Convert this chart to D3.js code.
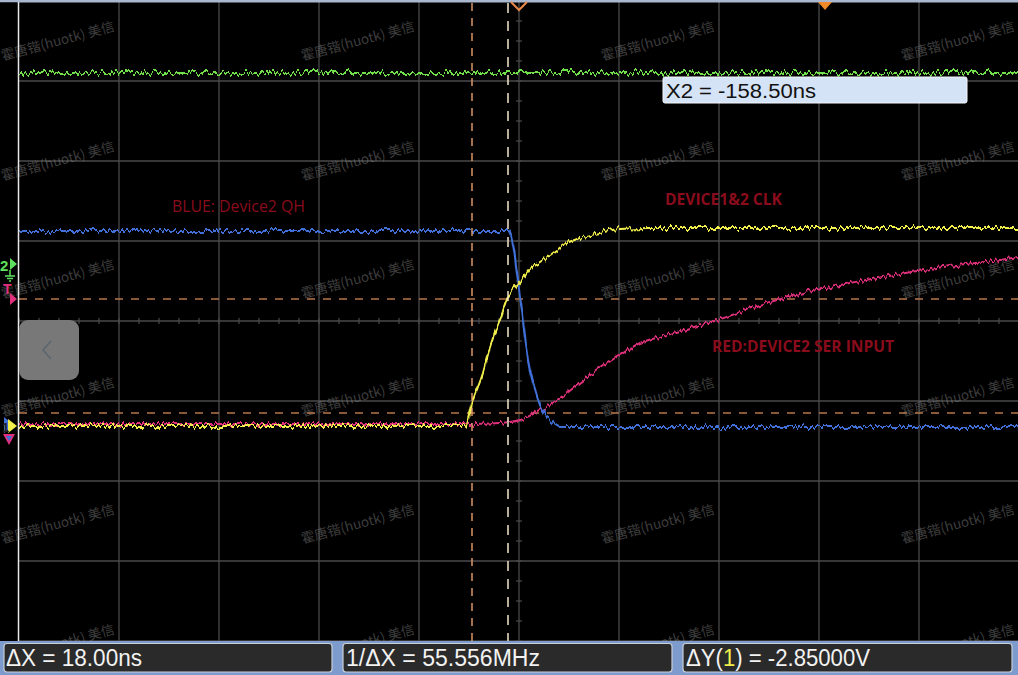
<!DOCTYPE html>
<html><head><meta charset="utf-8">
<script src="https://cdn.jsdelivr.net/npm/d3@7/dist/d3.min.js"></script>
<style>
html,body{margin:0;padding:0;background:#000;overflow:hidden}
svg{display:block}
</style></head>
<body>
<svg id="c" width="1018" height="675"></svg>
<script>
// ---- data (time in ns, voltage in V relative to CH1 ground) ----
const blueT   = [-250, -7, -5.5, -3.5, -0.5, 2, 4.5, 8, 10.5, 14, 17, 20.5, 249.5];
const blueV   = [4.875, 4.875, 4.875, 4.65, 3.65, 2.65, 1.65, 0.9, 0.525, 0.225, 0.075, -0.025, -0.025];
const yellowT = [-250, -27, -23, -18, -14.5, -9.5, -5.5, -2, 0.5, 5.5, 10.5, 17, 24, 30.5, 40.5, 50.5, 65.5, 249.5];
const yellowV = [0, 0, 0.65, 1.325, 1.975, 2.65, 3.225, 3.475, 3.6, 3.95, 4.1, 4.325, 4.575, 4.7, 4.825, 4.925, 4.95, 4.95];
const redT    = [-250, -24.5, -9.5, 0.5, 9, 15.5, 24, 30.5, 40.5, 50.5, 60.5, 70.5, 80.5, 99.5, 120.5, 140.5, 165.5, 190.5, 215.5, 240.5, 249.5];
const redV    = [0.05, 0.05, 0.075, 0.15, 0.35, 0.525, 0.825, 1.075, 1.45, 1.775, 2.075, 2.225, 2.375, 2.65, 3.025, 3.3, 3.575, 3.8, 4.0, 4.15, 4.225];
const greenT  = [-250, 249.5];
const greenV  = [8.825, 8.825];
const cursorX = [-23.5, -5.5];      // X1, X2 (ns)
const cursorY = [0.325, 3.175];     // Y1, Y2 (V)
const markerT = [0, 153];           // trigger position, second marker
const labels  = ["BLUE: Device2 QH", "DEVICE1&2 CLK", "RED:DEVICE2 SER INPUT"];
const readouts = ["ΔX = 18.00ns", "1/ΔX = 55.556MHz", "ΔY(", "1", ") = -2.85000V"];
const x2Text = "X2 = -158.50ns";
const watermark = "霍唐锴(huotk) 美信";

const svg = d3.select("#c");
const x = d3.scaleLinear().domain([-250, 250]).range([19, 1019]);
const y = d3.scaleLinear().domain([-5.375, 10.625]).range([641, 1]);

const defs = svg.append("defs");
function jitter(id, seed, scale, fx, fy){
  const f = defs.append("filter").attr("id", id).attr("filterUnits","userSpaceOnUse")
    .attr("x",0).attr("y",0).attr("width",1018).attr("height",675);
  f.append("feTurbulence").attr("type","fractalNoise").attr("baseFrequency", fx+" "+fy)
    .attr("numOctaves",1).attr("seed",seed).attr("result","n0");
  const ct = f.append("feComponentTransfer").attr("in","n0").attr("result","n");
  ct.append("feFuncR").attr("type","linear").attr("slope",0).attr("intercept",0.5);
  f.append("feDisplacementMap").attr("in","SourceGraphic").attr("in2","n")
    .attr("scale",scale).attr("xChannelSelector","R").attr("yChannelSelector","G");
}
jitter("jg", 3, 13, 0.4, 0.05);
jitter("jb", 7, 11, 0.4, 0.05);
jitter("jy", 11, 11, 0.4, 0.05);
jitter("jr", 17, 10, 0.4, 0.05);
defs.append("clipPath").attr("id","lc").append("rect").attr("x",0).attr("y",0).attr("width",18).attr("height",641);

// background
svg.append("rect").attr("width",1018).attr("height",675).attr("fill","#000");

// grid
const grid = svg.append("g");
const xTicks = d3.range(-250, 251, 50);
const yTicks = d3.range(0, 9).map(i => y.domain()[0] + i*2);
grid.selectAll(".vx").data(xTicks.filter(t => t > -250)).join("line")
  .attr("x1", d => x(d)).attr("x2", d => x(d)).attr("y1", 1).attr("y2", 641)
  .attr("stroke", "#4a4a4a").attr("stroke-width", 1.3);
grid.selectAll(".hy").data(yTicks).join("line")
  .attr("x1", 19).attr("x2", 1018).attr("y1", d => y(d)).attr("y2", d => y(d))
  .attr("stroke", "#4a4a4a").attr("stroke-width", 1.3);
// minor ticks on centre axes
const minorX = d3.range(-250, 251, 10);
const minorY = d3.range(0, 33).map(i => y.domain()[0] + i*0.5);
const cy = y(y.domain()[0] + 8), cx = x(0);
grid.selectAll(".mx").data(minorX).join("line")
  .attr("x1", d => x(d)).attr("x2", d => x(d)).attr("y1", cy-3).attr("y2", cy+3)
  .attr("stroke", "#4a4a4a").attr("stroke-width", 1.2);
grid.selectAll(".my").data(minorY).join("line")
  .attr("x1", cx-3).attr("x2", cx+3).attr("y1", d => y(d)).attr("y2", d => y(d))
  .attr("stroke", "#4a4a4a").attr("stroke-width", 1.2);

// watermarks
const wmCols = [58, 358, 658, 958], wmRows = [42, 162, 280, 398, 525, 645];
function wmText(g, c, r){
  g.append("text").attr("transform", `translate(${c},${r}) rotate(-15)`)
    .attr("text-anchor","middle").attr("dominant-baseline","middle")
    .attr("font-family","'Noto Sans CJK SC', 'DejaVu Sans', sans-serif").attr("font-size",13.5)
    .attr("fill","rgba(150,150,150,0.42)").text(watermark);
}
const wm = svg.append("g");
wmRows.forEach(r => wmCols.forEach(c => wmText(wm, c, r)));

// horizontal cursors
svg.selectAll(".cy").data(cursorY).join("line")
  .attr("x1", 19).attr("x2", 1018).attr("y1", d => y(d)).attr("y2", d => y(d))
  .attr("stroke", "#b9774a").attr("stroke-width", 1.4).attr("stroke-dasharray", "8,8");

// traces
const line = (T, V) => d3.line().x((d,i) => x(T[i])).y((d,i) => y(V[i])).curve(d3.curveMonotoneX)(T);
function trace(T, V, color, f, w){
  svg.append("path").attr("d", line(T, V)).attr("fill","none")
    .attr("stroke", color).attr("stroke-width", w).attr("filter", `url(#${f})`);
}
trace(greenT, greenV, "#6fe04c", "jg", 2.2);
trace(redT, redV, "#e0307c", "jr", 2);
trace(blueT, blueV, "#3f6fd8", "jb", 2);
trace(yellowT, yellowV, "#f2ee4c", "jy", 2);

// vertical cursors
svg.append("line").attr("x1", x(cursorX[0])).attr("x2", x(cursorX[0])).attr("y1", 3).attr("y2", 641)
  .attr("stroke", "#e8a070").attr("stroke-width", 1.4).attr("stroke-dasharray", "8,7");
svg.append("line").attr("x1", x(cursorX[1])).attr("x2", x(cursorX[1])).attr("y1", 3).attr("y2", 641)
  .attr("stroke", "#f4e6cc").attr("stroke-width", 1.5).attr("stroke-dasharray", "10,8");

// top markers
svg.append("rect").attr("x",0).attr("y",0).attr("width",1018).attr("height",2.5).attr("fill","#a9b8cf");
const m0 = x(markerT[0]);
svg.append("path").attr("d", `M${m0-8},2 L${m0},10 L${m0+8},2`).attr("fill","none")
  .attr("stroke","#e8894a").attr("stroke-width",2);
const m1 = x(markerT[1]);
svg.append("path").attr("d", `M${m1-7},2 L${m1+7},2 L${m1},10 Z`).attr("fill","#f08a28");

// left border column
svg.append("rect").attr("x",0).attr("y",2.5).attr("width",18).attr("height",638.5).attr("fill","#000");
svg.append("line").attr("x1",18.5).attr("x2",18.5).attr("y1",2).attr("y2",641).attr("stroke","#e8e8e8").attr("stroke-width",1.5);
const wl = svg.append("g").attr("clip-path","url(#lc)");
wmRows.forEach(r => wmText(wl, 58, r));

// channel markers
const lm = svg.append("g");
lm.append("text").attr("x",0).attr("y",271).attr("font-family","Liberation Sans, Arial").attr("font-weight","bold")
  .attr("font-size",15).attr("fill","#5ee05e").text("2");
lm.append("path").attr("d","M10,258 L17,264 L10,270 Z").attr("fill","#5ee05e");
lm.append("path").attr("d","M10,270 V276 M5,276 H15 M7,278.5 H13 M9,281 H11").attr("stroke","#5ee05e").attr("stroke-width",1.5);
lm.append("text").attr("x",3).attr("y",294).attr("font-family","Liberation Sans, Arial").attr("font-weight","bold")
  .attr("font-size",14).attr("fill","#e0307c").text("T");
lm.append("path").attr("d","M10,293 L17,299 L10,305 Z").attr("fill","#e0307c");
lm.append("path").attr("d","M4,417 L14,425 L4,433 Z").attr("fill","#3f6fd8");
lm.append("path").attr("d","M8,419 L17,426 L8,433 Z").attr("fill","#f2ee4c");
lm.append("text").attr("x",2).attr("y",432).attr("font-family","Liberation Sans, Arial").attr("font-weight","bold")
  .attr("font-size",13).attr("fill","#222").text("1");
lm.append("path").attr("d","M3,434 L15,434 L9,445 Z").attr("fill","#e0307c");
lm.append("path").attr("d","M6,436 L12,436 L9,441 Z").attr("fill","#3f6fd8");

// back button
svg.append("rect").attr("x",19).attr("y",320).attr("width",60).attr("height",60).attr("rx",9)
  .attr("fill","#787878");
svg.append("path").attr("d","M51,341 L43,350 L51,359").attr("fill","none").attr("stroke","#5c6670").attr("stroke-width",1.6);

// annotation labels
svg.append("text").attr("x",172).attr("y",212).attr("font-family","'Open Sans', sans-serif").attr("font-size",15.5)
  .attr("fill","#8a0c1c").attr("textLength",133).attr("lengthAdjust","spacingAndGlyphs").text(labels[0]);
svg.append("text").attr("x",665).attr("y",205).attr("font-family","'Open Sans', sans-serif").attr("font-size",15.5)
  .attr("font-weight","bold").attr("fill","#8a0c1c").attr("textLength",117).attr("lengthAdjust","spacingAndGlyphs").text(labels[1]);
svg.append("text").attr("x",712).attr("y",352).attr("font-family","'Open Sans', sans-serif").attr("font-size",15.5)
  .attr("font-weight","bold").attr("fill","#8a0c1c").attr("textLength",182).attr("lengthAdjust","spacingAndGlyphs").text(labels[2]);

// X2 readout box
svg.append("rect").attr("x",663).attr("y",77).attr("width",304).attr("height",26).attr("rx",2)
  .attr("fill","#d5e3f6").attr("stroke","#f2f6fb").attr("stroke-width",1);
svg.append("text").attr("x",666).attr("y",98).attr("font-family","'Liberation Sans', Arial, sans-serif")
  .attr("font-size",20).attr("fill","#111").attr("textLength",150).attr("lengthAdjust","spacingAndGlyphs").text(x2Text);

// bottom status bar
svg.append("rect").attr("x",0).attr("y",641).attr("width",1018).attr("height",34).attr("fill","#7d9bcc");
const boxes = [[4,332],[343,672],[683,1012]];
boxes.forEach(b => {
  svg.append("rect").attr("x",b[0]).attr("y",643.5).attr("width",b[1]-b[0]).attr("height",28.5).attr("rx",3)
    .attr("fill","#2a2a2a").attr("stroke","#c9cfd8").attr("stroke-width",1.2);
});
const rf = "'Liberation Sans', Arial, sans-serif";
svg.append("text").attr("x",6).attr("y",666).attr("font-family",rf).attr("font-size",23).attr("fill","#f2f2f2")
  .attr("textLength",136).attr("lengthAdjust","spacingAndGlyphs").text(readouts[0]);
svg.append("text").attr("x",346).attr("y",666).attr("font-family",rf).attr("font-size",23).attr("fill","#f2f2f2")
  .attr("textLength",194).attr("lengthAdjust","spacingAndGlyphs").text(readouts[1]);
const t3 = svg.append("text").attr("x",686).attr("y",666).attr("font-family",rf).attr("font-size",23).attr("fill","#f2f2f2")
  .attr("textLength",184).attr("lengthAdjust","spacingAndGlyphs");
t3.append("tspan").text(readouts[2]);
t3.append("tspan").attr("fill","#f2ee4c").text(readouts[3]);
t3.append("tspan").text(readouts[4]);
</script>
</body></html>
